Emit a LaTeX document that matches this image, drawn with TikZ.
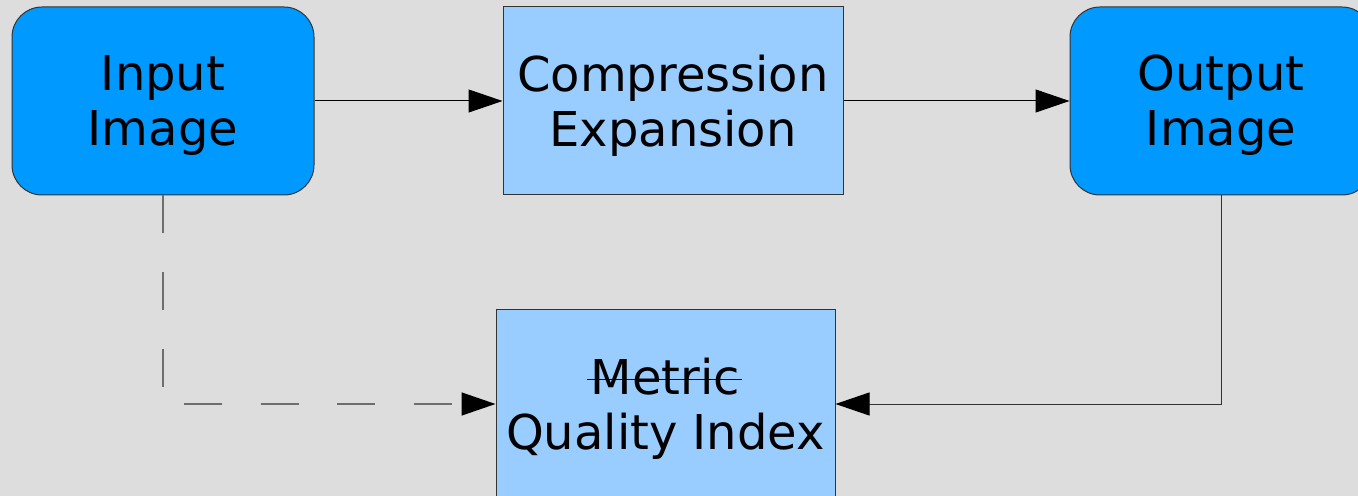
\documentclass[tikz,border=0pt]{standalone}
\usepackage{fontspec}
\setmainfont{DejaVu Sans}
\usetikzlibrary{arrows.meta}

\definecolor{bggray}{HTML}{DDDDDD}
\definecolor{imgblue}{HTML}{0099FF}
\definecolor{procblue}{HTML}{99CCFF}
\definecolor{edgegray}{HTML}{333333}
\definecolor{dashgray}{HTML}{6E6E6E}

% struck-through word
\newcommand{\strikeword}[1]{%
  \setbox0\hbox{#1}%
  \rlap{\kern-2pt\raisebox{0.29em}{\rule{\dimexpr\wd0+3pt\relax}{0.7pt}}}%
  \box0}

\tikzset{
  imagebox/.style={draw=edgegray, line width=0.5pt, fill=imgblue,
                   rounded corners=15pt, minimum width=151pt,
                   minimum height=94pt, align=center, inner sep=0pt,
                   text depth=0.5pt},
  procbox/.style={draw=edgegray, line width=0.5pt, fill=procblue,
                  minimum height=94pt, align=center, inner sep=0pt,
                  text depth=0.5pt},
  flow/.style={line width=0.5pt,
               -{Triangle[length=17pt,width=11.5pt,color=black]}},
}

\begin{document}
\begin{tikzpicture}[x=0.5pt, y=-0.5pt,
                    every node/.style={font=\fontsize{24}{27.5}\selectfont}]
  \fill[bggray] (0,0) rectangle (1358,496);
  \useasboundingbox (0,0) rectangle (1358,496);

  % the four blocks
  \node[imagebox] (input) at (163,101) {Input\\Image};
  \node[procbox, minimum width=170pt] (codec) at (673,101) {Compression\\Expansion};
  \node[imagebox] (output) at (1221,101) {Output\\Image};
  \node[procbox, minimum width=169.5pt] (metric) at (665.5,404)
       {\strikeword{Metric}\\Quality Index};

  % connectors
  \draw[flow] (input) -- (codec);
  \draw[flow] (codec) -- (output);
  \draw[flow, draw=edgegray] (output.south) |- (metric.east);
  \draw[flow, draw=dashgray, line width=0.75pt,
        dash pattern=on 19pt off 19.25pt] (input.south) |- (metric.west);
\end{tikzpicture}
\end{document}
